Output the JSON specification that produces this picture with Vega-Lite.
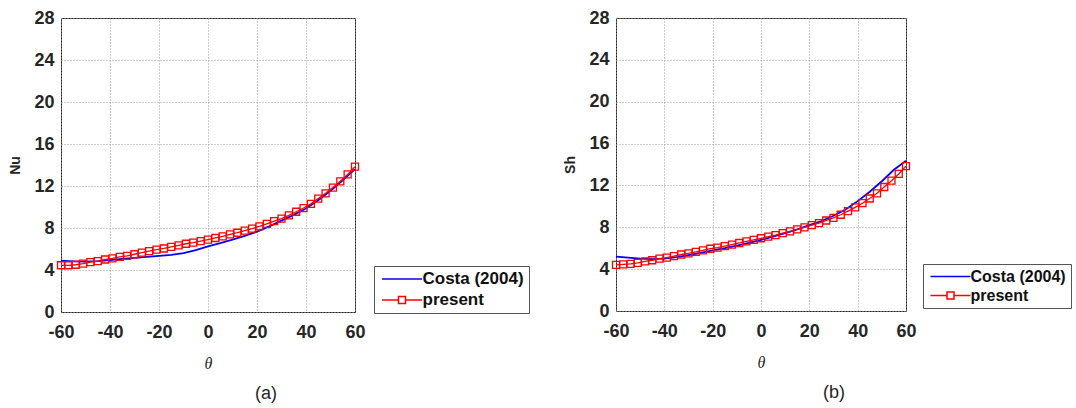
{
  "$schema": "https://vega.github.io/schema/vega-lite/v6.json",
  "background": "white",
  "padding": {"left": 8, "top": 8, "right": 0, "bottom": 5},
  "spacing": 33,
  "config": {
    "view": {"stroke": "#262626", "strokeWidth": 1},
    "axis": {
      "labelFont": "Liberation Sans", "labelFontWeight": "bold", "labelFontSize": 18, "labelColor": "#262626",
      "titleFont": "Liberation Sans", "titleFontWeight": "bold", "titleFontSize": 14, "titleColor": "#262626",
      "grid": true, "gridColor": "#9a9a9a", "gridDash": [1, 2], "gridWidth": 1,
      "domain": false, "ticks": false, "labelFlush": false,
      "labelExpr": "datum.value < 0 ? '-' + abs(datum.value) : '' + datum.value"
    },
    "axisX": {"labelPadding": 11, "titlePadding": 14, "titleFont": "Liberation Serif", "titleFontStyle": "italic", "titleFontWeight": "normal", "titleFontSize": 16},
    "axisY": {"labelPadding": 7, "titlePadding": 11},
    "legend": {
      "labelFont": "Liberation Sans", "labelFontWeight": "bold", "labelFontSize": 17, "labelColor": "#111111",
      "strokeColor": "#555555", "fillColor": "white", "padding": 4.5, "rowPadding": 3,
      "symbolSize": 100, "symbolStrokeWidth": 1.5, "labelOffset": 27, "title": null, "symbolOpacity": 1
    },
    "title": {"font": "Liberation Sans", "fontSize": 18, "fontWeight": "normal", "color": "#262626"}
  },
  "datasets": {
    "nu": [
      {"theta": -60, "value": 4.9, "series": "Costa (2004)"},
      {"theta": -55, "value": 4.82, "series": "Costa (2004)"},
      {"theta": -50, "value": 4.8, "series": "Costa (2004)"},
      {"theta": -45, "value": 4.85, "series": "Costa (2004)"},
      {"theta": -40, "value": 4.95, "series": "Costa (2004)"},
      {"theta": -35, "value": 5.05, "series": "Costa (2004)"},
      {"theta": -30, "value": 5.15, "series": "Costa (2004)"},
      {"theta": -25, "value": 5.25, "series": "Costa (2004)"},
      {"theta": -20, "value": 5.35, "series": "Costa (2004)"},
      {"theta": -15, "value": 5.45, "series": "Costa (2004)"},
      {"theta": -10, "value": 5.6, "series": "Costa (2004)"},
      {"theta": -5, "value": 5.9, "series": "Costa (2004)"},
      {"theta": 0, "value": 6.25, "series": "Costa (2004)"},
      {"theta": 5, "value": 6.55, "series": "Costa (2004)"},
      {"theta": 10, "value": 6.9, "series": "Costa (2004)"},
      {"theta": 15, "value": 7.25, "series": "Costa (2004)"},
      {"theta": 20, "value": 7.65, "series": "Costa (2004)"},
      {"theta": 25, "value": 8.15, "series": "Costa (2004)"},
      {"theta": 30, "value": 8.7, "series": "Costa (2004)"},
      {"theta": 35, "value": 9.25, "series": "Costa (2004)"},
      {"theta": 40, "value": 9.85, "series": "Costa (2004)"},
      {"theta": 45, "value": 10.65, "series": "Costa (2004)"},
      {"theta": 50, "value": 11.55, "series": "Costa (2004)"},
      {"theta": 55, "value": 12.55, "series": "Costa (2004)"},
      {"theta": 60, "value": 13.6, "series": "Costa (2004)"},
      {"theta": -60, "value": 4.45, "series": "present"},
      {"theta": -57, "value": 4.45, "series": "present"},
      {"theta": -54, "value": 4.5, "series": "present"},
      {"theta": -51, "value": 4.6, "series": "present"},
      {"theta": -48, "value": 4.75, "series": "present"},
      {"theta": -45, "value": 4.85, "series": "present"},
      {"theta": -42, "value": 5.0, "series": "present"},
      {"theta": -39, "value": 5.1, "series": "present"},
      {"theta": -36, "value": 5.25, "series": "present"},
      {"theta": -33, "value": 5.35, "series": "present"},
      {"theta": -30, "value": 5.5, "series": "present"},
      {"theta": -27, "value": 5.65, "series": "present"},
      {"theta": -24, "value": 5.8, "series": "present"},
      {"theta": -21, "value": 5.95, "series": "present"},
      {"theta": -18, "value": 6.05, "series": "present"},
      {"theta": -15, "value": 6.2, "series": "present"},
      {"theta": -12, "value": 6.35, "series": "present"},
      {"theta": -9, "value": 6.5, "series": "present"},
      {"theta": -6, "value": 6.6, "series": "present"},
      {"theta": -3, "value": 6.75, "series": "present"},
      {"theta": 0, "value": 6.9, "series": "present"},
      {"theta": 3, "value": 7.05, "series": "present"},
      {"theta": 6, "value": 7.2, "series": "present"},
      {"theta": 9, "value": 7.4, "series": "present"},
      {"theta": 12, "value": 7.55, "series": "present"},
      {"theta": 15, "value": 7.75, "series": "present"},
      {"theta": 18, "value": 7.95, "series": "present"},
      {"theta": 21, "value": 8.15, "series": "present"},
      {"theta": 24, "value": 8.4, "series": "present"},
      {"theta": 27, "value": 8.65, "series": "present"},
      {"theta": 30, "value": 8.9, "series": "present"},
      {"theta": 33, "value": 9.2, "series": "present"},
      {"theta": 36, "value": 9.55, "series": "present"},
      {"theta": 39, "value": 9.9, "series": "present"},
      {"theta": 42, "value": 10.3, "series": "present"},
      {"theta": 45, "value": 10.8, "series": "present"},
      {"theta": 48, "value": 11.3, "series": "present"},
      {"theta": 51, "value": 11.85, "series": "present"},
      {"theta": 54, "value": 12.45, "series": "present"},
      {"theta": 57, "value": 13.1, "series": "present"},
      {"theta": 60, "value": 13.85, "series": "present"}
    ],
    "sh": [
      {"theta": -60, "value": 5.2, "series": "Costa (2004)"},
      {"theta": -55, "value": 5.1, "series": "Costa (2004)"},
      {"theta": -50, "value": 5.0, "series": "Costa (2004)"},
      {"theta": -45, "value": 4.95, "series": "Costa (2004)"},
      {"theta": -40, "value": 5.0, "series": "Costa (2004)"},
      {"theta": -35, "value": 5.15, "series": "Costa (2004)"},
      {"theta": -30, "value": 5.35, "series": "Costa (2004)"},
      {"theta": -25, "value": 5.55, "series": "Costa (2004)"},
      {"theta": -20, "value": 5.8, "series": "Costa (2004)"},
      {"theta": -15, "value": 6.0, "series": "Costa (2004)"},
      {"theta": -10, "value": 6.25, "series": "Costa (2004)"},
      {"theta": -5, "value": 6.5, "series": "Costa (2004)"},
      {"theta": 0, "value": 6.8, "series": "Costa (2004)"},
      {"theta": 5, "value": 7.1, "series": "Costa (2004)"},
      {"theta": 10, "value": 7.45, "series": "Costa (2004)"},
      {"theta": 15, "value": 7.8, "series": "Costa (2004)"},
      {"theta": 20, "value": 8.2, "series": "Costa (2004)"},
      {"theta": 25, "value": 8.6, "series": "Costa (2004)"},
      {"theta": 30, "value": 9.1, "series": "Costa (2004)"},
      {"theta": 35, "value": 9.7, "series": "Costa (2004)"},
      {"theta": 40, "value": 10.5, "series": "Costa (2004)"},
      {"theta": 45, "value": 11.4, "series": "Costa (2004)"},
      {"theta": 50, "value": 12.4, "series": "Costa (2004)"},
      {"theta": 55, "value": 13.5, "series": "Costa (2004)"},
      {"theta": 60, "value": 14.35, "series": "Costa (2004)"},
      {"theta": -60, "value": 4.4, "series": "present"},
      {"theta": -57, "value": 4.45, "series": "present"},
      {"theta": -54, "value": 4.5, "series": "present"},
      {"theta": -51, "value": 4.6, "series": "present"},
      {"theta": -48, "value": 4.75, "series": "present"},
      {"theta": -45, "value": 4.85, "series": "present"},
      {"theta": -42, "value": 5.0, "series": "present"},
      {"theta": -39, "value": 5.1, "series": "present"},
      {"theta": -36, "value": 5.25, "series": "present"},
      {"theta": -33, "value": 5.4, "series": "present"},
      {"theta": -30, "value": 5.5, "series": "present"},
      {"theta": -27, "value": 5.65, "series": "present"},
      {"theta": -24, "value": 5.8, "series": "present"},
      {"theta": -21, "value": 5.95, "series": "present"},
      {"theta": -18, "value": 6.05, "series": "present"},
      {"theta": -15, "value": 6.2, "series": "present"},
      {"theta": -12, "value": 6.35, "series": "present"},
      {"theta": -9, "value": 6.5, "series": "present"},
      {"theta": -6, "value": 6.65, "series": "present"},
      {"theta": -3, "value": 6.8, "series": "present"},
      {"theta": 0, "value": 6.95, "series": "present"},
      {"theta": 3, "value": 7.1, "series": "present"},
      {"theta": 6, "value": 7.25, "series": "present"},
      {"theta": 9, "value": 7.45, "series": "present"},
      {"theta": 12, "value": 7.6, "series": "present"},
      {"theta": 15, "value": 7.8, "series": "present"},
      {"theta": 18, "value": 8.0, "series": "present"},
      {"theta": 21, "value": 8.2, "series": "present"},
      {"theta": 24, "value": 8.4, "series": "present"},
      {"theta": 27, "value": 8.65, "series": "present"},
      {"theta": 30, "value": 8.9, "series": "present"},
      {"theta": 33, "value": 9.2, "series": "present"},
      {"theta": 36, "value": 9.55, "series": "present"},
      {"theta": 39, "value": 9.9, "series": "present"},
      {"theta": 42, "value": 10.3, "series": "present"},
      {"theta": 45, "value": 10.75, "series": "present"},
      {"theta": 48, "value": 11.25, "series": "present"},
      {"theta": 51, "value": 11.85, "series": "present"},
      {"theta": 54, "value": 12.45, "series": "present"},
      {"theta": 57, "value": 13.1, "series": "present"},
      {"theta": 60, "value": 13.85, "series": "present"}
    ]
  },
  "resolve": {
    "scale": {"color": "independent", "shape": "independent"},
    "legend": {"color": "independent", "shape": "independent"}
  },
  "hconcat": [
    {
      "width": 294, "height": 294,
      "title": {"text": "(a)", "orient": "bottom", "anchor": "middle", "frame": "group", "dx": 58, "offset": 14},
      "data": {"name": "nu"},
      "encoding": {
        "x": {"field": "theta", "type": "quantitative", "scale": {"domain": [-60, 60], "nice": false},
              "axis": {"values": [-60, -40, -20, 0, 20, 40, 60], "title": "θ"}},
        "y": {"field": "value", "type": "quantitative", "scale": {"domain": [0, 28], "nice": false},
              "axis": {"values": [0, 4, 8, 12, 16, 20, 24, 28], "title": "Nu"}}
      },
      "layer": [
        {"transform": [{"filter": "datum.series == 'Costa (2004)'"}],
         "mark": {"type": "line", "color": "#0000ff", "strokeWidth": 1.8}},
        {"transform": [{"filter": "datum.series == 'present'"}],
         "mark": {"type": "line", "color": "#ff0000", "strokeWidth": 1.3}},
        {"transform": [{"filter": "datum.series == 'present'"}],
         "mark": {"type": "point", "shape": "square", "filled": false, "color": "#ff0000", "size": 49, "strokeWidth": 1.3, "opacity": 1}},
        {"transform": [{"filter": "false"}],
         "mark": {"type": "point", "filled": false, "strokeWidth": 1.5, "size": 100},
         "encoding": {
           "color": {"field": "series", "type": "nominal",
             "scale": {"domain": ["Costa (2004)", "present"], "range": ["#0000ff", "#ff0000"]},
             "legend": {"orient": "none", "legendX": 313, "legendY": 248}},
           "shape": {"field": "series", "type": "nominal",
             "scale": {"domain": ["Costa (2004)", "present"], "range": ["M-1,0H7", "M-1,0H2.3M3.7,0H7M2.3,-0.7H3.7V0.7H2.3Z"]},
             "legend": {"orient": "none", "legendX": 313, "legendY": 248}}
         }}
      ]
    },
    {
      "width": 290, "height": 293,
      "title": {"text": "(b)", "orient": "bottom", "anchor": "middle", "frame": "group", "dx": 73, "offset": 14},
      "data": {"name": "sh"},
      "encoding": {
        "x": {"field": "theta", "type": "quantitative", "scale": {"domain": [-60, 60], "nice": false},
              "axis": {"values": [-60, -40, -20, 0, 20, 40, 60], "title": "θ"}},
        "y": {"field": "value", "type": "quantitative", "scale": {"domain": [0, 28], "nice": false},
              "axis": {"values": [0, 4, 8, 12, 16, 20, 24, 28], "title": "Sh"}}
      },
      "layer": [
        {"transform": [{"filter": "datum.series == 'Costa (2004)'"}],
         "mark": {"type": "line", "color": "#0000ff", "strokeWidth": 1.8}},
        {"transform": [{"filter": "datum.series == 'present'"}],
         "mark": {"type": "line", "color": "#ff0000", "strokeWidth": 1.3}},
        {"transform": [{"filter": "datum.series == 'present'"}],
         "mark": {"type": "point", "shape": "square", "filled": false, "color": "#ff0000", "size": 49, "strokeWidth": 1.3, "opacity": 1}},
        {"transform": [{"filter": "false"}],
         "mark": {"type": "point", "filled": false, "strokeWidth": 1.5, "size": 100},
         "encoding": {
           "color": {"field": "series", "type": "nominal",
             "scale": {"domain": ["Costa (2004)", "present"], "range": ["#0000ff", "#ff0000"]},
             "legend": {"orient": "none", "legendX": 307, "legendY": 246, "labelFontSize": 16}},
           "shape": {"field": "series", "type": "nominal",
             "scale": {"domain": ["Costa (2004)", "present"], "range": ["M-1,0H7", "M-1,0H2.3M3.7,0H7M2.3,-0.7H3.7V0.7H2.3Z"]},
             "legend": {"orient": "none", "legendX": 307, "legendY": 246, "labelFontSize": 16}}
         }}
      ]
    }
  ]
}
